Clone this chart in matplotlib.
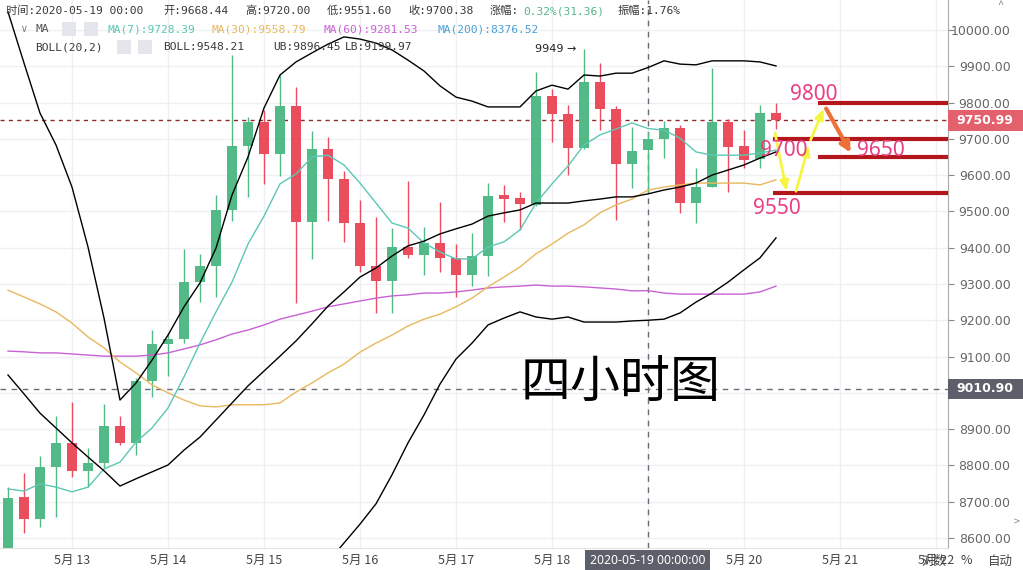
import matplotlib
matplotlib.use('Agg')
import matplotlib.pyplot as plt
from matplotlib.patches import Rectangle
import numpy as np

# 4h candles, 2020-05-12 08:00 .. 2020-05-20 08:00
opens = [8550, 8713, 8652, 8796, 8862, 8785, 8807, 8909, 8862, 9033,
         9135, 9148, 9305, 9350, 9504, 9680, 9746, 9658, 9790, 9471,
         9672, 9589, 9468, 9350, 9308, 9402, 9380, 9413, 9372, 9325,
         9377, 9545, 9537, 9518, 9818, 9768, 9675, 9857, 9782, 9631,
         9668.44, 9700, 9730, 9523, 9567, 9746, 9680, 9644, 9771]
highs = [8740, 8779, 8826, 8936, 8975, 8848, 8969, 8936, 9041, 9173,
         9165, 9396, 9383, 9545, 9931, 9760, 9780, 9876, 9843, 9722,
         9705, 9611, 9531, 9485, 9454, 9584, 9457, 9526, 9410, 9440,
         9578, 9573, 9553, 9884, 9837, 9793, 9949, 9909, 9790, 9733,
         9720.00, 9749, 9738, 9620, 9895, 9755, 9724, 9793, 9799]
lows = [8520, 8614, 8630, 8658, 8768, 8740, 8793, 8856, 8829, 8988,
        9046, 9137, 9250, 9264, 9474, 9540, 9575, 9598, 9248, 9369,
        9474, 9416, 9333, 9220, 9220, 9372, 9325, 9333, 9264, 9294,
        9322, 9471, 9449, 9515, 9691, 9600, 9672, 9724, 9476, 9565,
        9551.60, 9647, 9496, 9468, 9567, 9553, 9620, 9620, 9727]
closes = [8710, 8652, 8796, 8862, 8785, 8807, 8909, 8862, 9033, 9135,
          9148, 9305, 9350, 9504, 9680, 9746, 9658, 9790, 9471, 9672,
          9589, 9468, 9350, 9308, 9402, 9380, 9413, 9372, 9325, 9377,
          9542, 9534, 9520, 9818, 9768, 9675, 9857, 9782, 9631, 9667,
          9700.38, 9730, 9523, 9567, 9746, 9678, 9642, 9771, 9750.99]

ma7 = [8735, 8729, 8749, 8740, 8727, 8740, 8790, 8809, 8864, 8903,
       8958, 9044, 9137, 9223, 9305, 9410, 9487, 9576, 9603, 9650,
       9655, 9628, 9578, 9523, 9468, 9454, 9413, 9388, 9369, 9369,
       9402, 9416, 9449, 9523, 9576, 9625, 9683, 9711, 9727, 9744,
       9728.39, 9724, 9702, 9664, 9655, 9655, 9655, 9661, 9669]
ma30 = [9283, 9264, 9245, 9223, 9192, 9154, 9124, 9085, 9055, 9022,
        9000, 8980, 8964, 8961, 8967, 8967, 8967, 8972, 9002, 9027,
        9055, 9079, 9112, 9137, 9159, 9184, 9203, 9217, 9237, 9261,
        9292, 9319, 9347, 9383, 9410, 9440, 9463, 9496, 9518, 9534,
        9558.79, 9567, 9573, 9578, 9578, 9578, 9578, 9573, 9587]
ma60 = [9115, 9113, 9110, 9110, 9107, 9104, 9101, 9101, 9101, 9104,
        9110, 9121, 9132, 9146, 9162, 9173, 9187, 9203, 9214, 9225,
        9237, 9245, 9253, 9261, 9267, 9270, 9275, 9275, 9278, 9283,
        9289, 9292, 9294, 9297, 9294, 9294, 9292, 9289, 9286, 9281,
        9281.53, 9275, 9272, 9272, 9272, 9272, 9272, 9278, 9294]
boll_mid = [9049, 8997, 8944, 8903, 8862, 8823, 8785, 8743, 8763, 8782,
            8801, 8842, 8878, 8925, 8972, 9019, 9060, 9101, 9143, 9190,
            9239, 9278, 9319, 9344, 9377, 9405, 9418, 9438, 9452, 9465,
            9487, 9496, 9504, 9523, 9523, 9523, 9529, 9534, 9540, 9540,
            9548.21, 9559, 9567, 9578, 9600, 9614, 9628, 9647, 9664]
boll_ub = [10050, 9909, 9771, 9683, 9567, 9402, 9206, 8980, 9027, 9090,
           9159, 9237, 9303, 9399, 9545, 9650, 9785, 9876, 9912, 9937,
           9961, 9981, 9975, 9964, 9945, 9917, 9887, 9846, 9815, 9804,
           9788, 9788, 9788, 9832, 9848, 9837, 9876, 9873, 9881, 9881,
           9896.45, 9915, 9906, 9904, 9915, 9915, 9915, 9912, 9901]
boll_lb = [np.nan] * 19 + [8479, 8534, 8586, 8638, 8694, 8774, 8862, 8939, 9024, 9093,
                           9137, 9187, 9206, 9223, 9209, 9203, 9209, 9195, 9195, 9195,
                           9198, 9199.97, 9203, 9220, 9250, 9275, 9305, 9339, 9372, 9427]

date_labels = ['5月 13', '5月 14', '5月 15', '5月 16', '5月 17', '5月 18', '', '5月 20', '5月 21', '5月 22']
date_pos = [4, 10, 16, 22, 28, 34, 40, 46, 52, 58]

last_price = 9750.99
cross_price = 9010.90
cross_idx = 40

# hand drawn levels
levels = [9800, 9700, 9650, 9550]
level_start = [50.6, 47.8, 50.6, 47.8]
level_text = ['9800', '9700', '9650', '9550']
level_text_x = [48.9, 47.0, 53.05, 46.55]
level_text_y = [9821, 9667, 9669, 9509]
path_yellow_x = [[47.9, 48.7], [49.2, 50.1], [50.1, 51.05]]
path_yellow_y = [[9724, 9548], [9548, 9690], [9690, 9790]]
path_orange_x = [51.05, 52.75]
path_orange_y = [9790, 9655]

GREEN = '#53b987'
RED = '#eb4d5c'
C_MA7 = '#5cc7b4'
C_MA30 = '#e8b85c'
C_MA60 = '#c862d4'
C_MA200 = '#4aa0d8'

W, H = 1023, 570
fig = plt.figure(figsize=(W / 100, H / 100), dpi=100)
ax = fig.add_axes([0, 22 / H, 948 / W, 548 / H])

idx = np.arange(len(opens))
o = np.array(opens); c = np.array(closes)
cols = [GREEN if cc >= oo else RED for oo, cc in zip(o, c)]
body = np.maximum(np.abs(c - o), 6)
ax.vlines(idx, lows, highs, colors=cols, lw=1, zorder=3)
ax.bar(idx, body, bottom=np.minimum(o, c), width=0.68, color=cols, zorder=3)

ax.plot(idx, ma60, color=C_MA60, lw=1, zorder=4)
ax.plot(idx, ma30, color=C_MA30, lw=1, zorder=4)
ax.plot(idx, ma7, color=C_MA7, lw=1, zorder=4)
for band in (boll_mid, boll_ub, boll_lb):
    ax.plot(idx, band, color='black', lw=1, zorder=4)

# price / crosshair lines
ax.axhline(last_price, color='#8e2b2b', lw=1, ls=(0, (3, 3)), zorder=2)
ax.axhline(cross_price, color='#6a6d78', lw=1, ls=(0, (4, 4)), zorder=2)
ax.axvline(cross_idx, color='#6a6d78', lw=1, ls=(0, (4, 4)), zorder=2)

ax.text(36 - 0.45, 9949, '9949 →', ha='right', va='center', fontsize=8, color='#222')

# levels and arrows
for lv, st in zip(levels, level_start):
    ax.plot([st, 58.75], [lv, lv], color='#b3161b', lw=3, solid_capstyle='butt', zorder=5)
for xs, ys in zip(path_yellow_x, path_yellow_y):
    ax.annotate('', xy=(xs[1], ys[1]), xytext=(xs[0], ys[0]),
                arrowprops=dict(arrowstyle='-|>,head_length=0.6,head_width=0.25', color='#f5f542', lw=2),
                zorder=6)
ax.annotate('', xy=(path_orange_x[1], path_orange_y[1]), xytext=(path_orange_x[0], path_orange_y[0]),
            arrowprops=dict(arrowstyle='-|>,head_length=0.6,head_width=0.3', color='#ee7036', lw=3),
            zorder=6)
for t, tx, ty in zip(level_text, level_text_x, level_text_y):
    ax.text(tx, ty, t, fontsize=15, color='#ea3f84', ha='left', va='center',
            family='Noto Sans', zorder=7)

ax.text(38.3, 9025, '四小时图', fontsize=36, color='black', ha='center', va='center',
        family=['Noto Sans CJK SC', 'DejaVu Sans'], zorder=7)

# axes
yvals = np.arange(8600, 10001, 100)
ax.set_xlim(-0.5, 58.75)
ax.set_ylim(8572.2, 10082.7)
ax.set_xticks(date_pos)
ax.set_xticklabels(date_labels, family=['Noto Sans CJK SC', 'DejaVu Sans'], fontsize=9, color='#444')
ax.set_yticks(yvals)
# 9000 sits under the crosshair price box
ax.set_yticklabels(['' if v == 9000 else '%.2f' % v for v in yvals])
ax.yaxis.tick_right()
ax.tick_params(axis='y', length=4, color='#888', pad=41, labelsize=9, labelcolor='#666')
for lab in ax.get_yticklabels():
    lab.set_ha('right')
ax.tick_params(axis='x', length=0, pad=4)
ax.grid(color='#eef0f3', lw=1, zorder=0)
for s in ('left', 'top'):
    ax.spines[s].set_visible(False)
ax.spines['right'].set_color('#a9a9a9')
ax.spines['bottom'].set_color('#e3e3e3')

# right axis price labels
yt = ax.get_yaxis_transform()
for price, fc in ((last_price, '#e3606d'), (cross_price, '#5d606b')):
    ax.add_patch(Rectangle((1.0, price - 28), W / 948 - 1, 56, transform=yt,
                           fc=fc, ec='none', clip_on=False, zorder=8))
    ax.text(985 / 948, price, '%.2f' % price, transform=yt, ha='center', va='center',
            color='white', fontsize=9, fontweight='bold', clip_on=False, zorder=9)

# bottom crosshair time label
xt = ax.get_xaxis_transform()
ax.add_patch(Rectangle((36.06, -0.0401), 7.8, 0.0365, transform=xt, fc='#5d606b', ec='none',
                       clip_on=False, zorder=8))
ax.text(cross_idx, -0.022, '2020-05-19 00:00:00', transform=xt, ha='center', va='center',
        color='white', fontsize=8.8, family='Noto Sans', clip_on=False, zorder=9)


def ftext(xp, yp, s, **kw):
    kw.setdefault('va', 'center')
    kw.setdefault('ha', 'left')
    fig.text(xp / W, 1 - yp / H, s, **kw)


mono = ['DejaVu Sans Mono', 'Noto Sans CJK SC']
cjk = ['Noto Sans CJK SC', 'DejaVu Sans']
hc = '#3a3a3a'
fs = 8.1
ftext(934, 561, '对数', family=cjk, fontsize=9, color='#444', ha='center')
ftext(966, 561, '%', family=cjk, fontsize=9, color='#444', ha='center')
ftext(1000, 561, '自动', family=cjk, fontsize=9, color='#444', ha='center')
ftext(1000, 5, '^', family=cjk, fontsize=8, color='#888', ha='center')
ftext(1017, 522, '>', family=cjk, fontsize=8, color='#888', ha='center')

# header rows
row1 = [(6, '时间:2020-05-19 00:00'), (163, '开:9668.44'), (245, '高:9720.00'),
        (327, '低:9551.60'), (408, '收:9700.38'), (490, '涨幅:'), (618, '振幅:1.76%')]
for xp, s in row1:
    ftext(xp, 11, s, family=mono, fontsize=fs, color=hc)
ftext(523, 11, '0.32%(31.36)', family=mono, fontsize=fs, color='#53b987')

ftext(20, 29, '∨', family=mono, fontsize=8, color='#888')
ftext(35, 29, 'MA', family=mono, fontsize=fs, color='#555')
for xp, yp in ((62, 29), (84, 29), (117, 47), (138, 47)):
    fig.add_artist(Rectangle(((xp) / W, 1 - (yp + 7) / H), 14 / W, 14 / H,
                             transform=fig.transFigure, fc='#e4e6ec', ec='none'))
for xp, s, col in ((107, 'MA(7):9728.39', C_MA7), (212, 'MA(30):9558.79', C_MA30),
                   (323, 'MA(60):9281.53', C_MA60), (437, 'MA(200):8376.52', C_MA200)):
    ftext(xp, 29, s, family=mono, fontsize=fs, color=col)
ftext(35, 47, 'BOLL(20,2)', family=mono, fontsize=fs, color=hc)
ftext(163, 47, 'BOLL:9548.21', family=mono, fontsize=fs, color=hc)
ftext(273, 47, 'UB:9896.45', family=mono, fontsize=fs, color=hc)
ftext(345, 47, 'LB:9199.97', family=mono, fontsize=fs, color=hc)

fig.savefig('out.png', dpi=100)
